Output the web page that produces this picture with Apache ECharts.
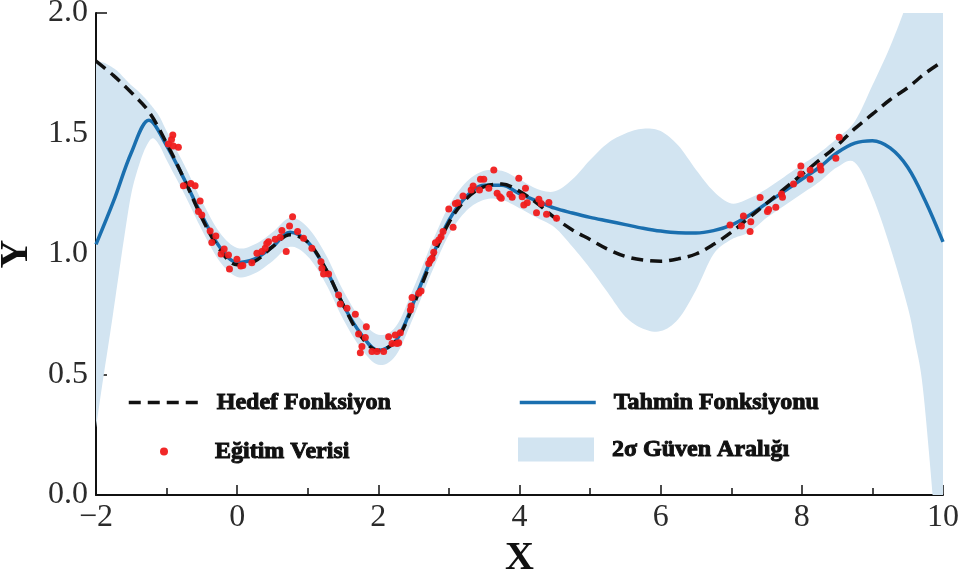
<!DOCTYPE html>
<html><head><meta charset="utf-8">
<script src="https://cdn.jsdelivr.net/npm/echarts@6/dist/echarts.min.js"></script>
<style>html,body{margin:0;padding:0;background:#fff}#c{width:965px;height:572px}</style>
</head><body><div id="c"></div>
<script>
// x positions for the two curves
const lineX = [-2,-1.75,-1.5,-1.25,-1,-0.75,-0.5,-0.25,0,0.25,0.5,0.75,1,1.25,1.5,1.75,2,2.25,2.5,2.75,3,3.25,3.5,3.75,4,4.25,4.5,4.75,5,5.25,5.5,5.75,6,6.25,6.5,6.75,7,7.25,7.5,7.75,8,8.25,8.5,8.75,9,9.25,9.5,9.75,10];
// Tahmin Fonksiyonu (prediction mean)
const meanY = [1.04,1.22,1.42,1.555,1.45,1.31,1.16,1.03,0.965,0.98,1.03,1.09,1.05,0.94,0.79,0.67,0.60,0.64,0.80,0.98,1.14,1.24,1.285,1.285,1.25,1.22,1.19,1.17,1.152,1.137,1.122,1.107,1.095,1.088,1.087,1.097,1.12,1.16,1.21,1.26,1.31,1.36,1.42,1.46,1.47,1.44,1.36,1.22,1.05];
// Hedef Fonksiyon (target)
const targetY = [1.80,1.74,1.67,1.59,1.46,1.31,1.15,1.02,0.955,0.97,1.03,1.08,1.05,0.94,0.79,0.66,0.60,0.64,0.79,0.97,1.13,1.23,1.28,1.29,1.26,1.21,1.15,1.10,1.06,1.02,0.99,0.975,0.97,0.98,1.00,1.04,1.09,1.15,1.21,1.27,1.33,1.39,1.45,1.52,1.58,1.64,1.69,1.75,1.80];
// 2-sigma band
const bandX = [-2,-1.9,-1.8,-1.7,-1.6,-1.5,-1.4,-1.3,-1.2,-1.1,-1,-0.75,-0.5,-0.25,0,0.25,0.5,0.75,1,1.25,1.5,1.75,2,2.25,2.5,2.75,3,3.25,3.5,3.75,4,4.25,4.5,4.75,5,5.25,5.5,5.75,6,6.25,6.5,6.75,7,7.25,7.5,7.75,8,8.25,8.5,8.75,9,9.25,9.5,9.6,9.7,9.8,9.9,10];
const bandLower = [0.28,0.48,0.67,0.87,1.07,1.25,1.36,1.44,1.48,1.45,1.39,1.25,1.10,0.97,0.905,0.92,0.97,1.03,0.99,0.88,0.73,0.61,0.54,0.58,0.74,0.92,1.08,1.18,1.225,1.225,1.19,1.15,1.11,1.03,0.94,0.84,0.74,0.69,0.68,0.73,0.85,1.00,1.06,1.09,1.15,1.20,1.25,1.30,1.36,1.38,1.24,1.03,0.78,0.64,0.48,0.18,-0.18,-0.6];
const bandUpper = [1.80,1.795,1.78,1.76,1.73,1.70,1.675,1.645,1.61,1.57,1.51,1.37,1.22,1.09,1.025,1.04,1.09,1.15,1.11,1.00,0.85,0.73,0.665,0.70,0.86,1.04,1.20,1.30,1.345,1.345,1.31,1.27,1.26,1.31,1.39,1.46,1.50,1.52,1.51,1.45,1.35,1.26,1.21,1.23,1.27,1.32,1.37,1.42,1.48,1.55,1.70,1.86,2.05,2.15,2.25,2.40,2.55,2.70];
// Eğitim Verisi (training data)
const dataX = [-0.975,-0.93,-0.912,-0.904,-0.833,-0.762,-0.657,-0.596,-0.525,-0.549,-0.501,-0.383,-0.302,-0.359,-0.184,-0.227,-0.123,-0.004,-0.109,0.052,0.08,0.208,0.28,0.35,0.397,0.444,0.42,0.539,0.634,0.61,0.742,0.785,0.856,0.695,0.941,1.059,1.187,1.201,1.224,1.295,1.437,1.461,1.556,1.674,1.83,1.72,1.816,1.768,1.745,1.91,1.98,2.075,2.146,2.24,2.265,2.194,2.312,2.288,2.454,2.464,2.478,2.572,2.605,2.714,2.738,2.761,2.785,2.809,2.856,2.889,2.917,3.059,2.998,3.092,3.125,3.2,3.315,3.343,3.433,3.565,3.447,3.494,3.636,3.683,3.72,3.741,3.863,3.896,3.99,4.085,4.038,4.061,4.11,4.274,4.307,4.416,4.241,4.383,4.525,6.983,7.172,7.144,7.277,7.267,7.409,7.513,7.53,7.631,7.712,7.726,7.882,7.986,7.986,8.118,8.118,8.26,8.27,8.482,8.53];
const dataY = [1.456,1.475,1.494,1.448,1.443,1.283,1.293,1.283,1.22,1.176,1.162,1.095,1.075,1.048,1.021,1.0,0.996,0.978,0.938,0.95,0.952,0.964,1.003,1.01,1.024,1.051,1.044,1.061,1.097,1.069,1.116,1.155,1.093,1.01,1.065,1.024,0.968,0.941,0.917,0.917,0.83,0.793,0.775,0.75,0.698,0.668,0.654,0.616,0.59,0.595,0.595,0.595,0.657,0.664,0.629,0.629,0.673,0.632,0.768,0.784,0.82,0.837,0.846,0.961,0.975,0.982,1.007,1.047,1.058,1.072,1.093,1.111,1.187,1.21,1.213,1.241,1.266,1.282,1.266,1.273,1.31,1.31,1.349,1.252,1.238,1.231,1.248,1.235,1.314,1.273,1.238,1.203,1.213,1.227,1.21,1.214,1.171,1.165,1.148,1.12,1.158,1.116,1.134,1.093,1.234,1.176,1.185,1.194,1.249,1.235,1.29,1.365,1.332,1.349,1.31,1.365,1.349,1.397,1.484];
const names = ['Hedef Fonksiyon','Eğitim Verisi','Tahmin Fonksiyonu','2σ Güven Aralığı'];

const zip = (xs, ys) => xs.map((x, i) => [x, ys[i]]);
const BLUE = '#1a6faf', BAND = '#d2e4f1', RED = '#f01c1c';
const serif = 'Liberation Serif';
const legText = {fontFamily: serif, fontWeight: 'bold', fontSize: 24, color: '#111', textBorderColor: '#111', textBorderWidth: 1};

// Catmull-Rom densification of pixel points (smooth band edges)
function smoothPts(pts, steps) {
  const out = [];
  for (let i = 0; i < pts.length - 1; i++) {
    const p0 = pts[Math.max(i - 1, 0)], p1 = pts[i], p2 = pts[i + 1], p3 = pts[Math.min(i + 2, pts.length - 1)];
    for (let s = 0; s < steps; s++) {
      const t = s / steps, t2 = t * t, t3 = t2 * t;
      const f = (a, b, c, d) => 0.5 * ((2 * b) + (-a + c) * t + (2 * a - 5 * b + 4 * c - d) * t2 + (-a + 3 * b - 3 * c + d) * t3);
      out.push([f(p0[0], p1[0], p2[0], p3[0]), f(p0[1], p1[1], p2[1], p3[1])]);
    }
  }
  out.push(pts[pts.length - 1]);
  return out;
}

const bandData = bandX.map((x, i) => [x, bandLower[i], bandUpper[i]]);

const chart = echarts.init(document.getElementById('c'), null, {renderer: 'canvas'});
chart.setOption({
  animation: false,
  backgroundColor: '#fff',
  grid: {left: 96, right: 22, top: 13, bottom: 77, containLabel: false, outerBoundsMode: 'none'},
  xAxis: {
    type: 'value', min: -2, max: 10, interval: 2,
    name: 'X', nameLocation: 'middle', nameGap: 33,
    nameTextStyle: {fontFamily: serif, fontWeight: 'bold', fontSize: 40, color: '#111'},
    axisLine: {onZero: false, lineStyle: {color: '#111', width: 2}},
    axisTick: {inside: true, length: 10, lineStyle: {color: '#111', width: 1.5}},
    minorTick: {show: true, splitNumber: 2, length: 7, lineStyle: {color: '#111', width: 1.5}},
    splitLine: {show: false},
    axisLabel: {fontFamily: serif, fontSize: 32, color: '#2b2b2b', margin: 7,
      formatter: v => v < 0 ? '\u2212' + Math.abs(v) : String(v)}
  },
  yAxis: {
    type: 'value', min: 0, max: 2, interval: 0.5,
    name: 'Y', nameLocation: 'middle', nameGap: 52, nameRotate: 90,
    nameTextStyle: {fontFamily: serif, fontWeight: 'bold', fontSize: 40, color: '#111'},
    axisLine: {show: true, onZero: false, lineStyle: {color: '#111', width: 2}},
    axisTick: {show: true, inside: true, length: 11, lineStyle: {color: '#111', width: 1.5}},
    splitLine: {show: false},
    axisLabel: {fontFamily: serif, fontSize: 32, color: '#2b2b2b', margin: 8,
      formatter: v => v.toFixed(1)}
  },
  legend: [
    {data: [{name: names[0], itemStyle: {opacity: 0}}], left: 127, top: 390, padding: 0, itemWidth: 73, itemHeight: 14,
     lineStyle: {width: 3.5}, selectedMode: false, textStyle: Object.assign({padding: [0, 0, 0, 10]}, legText)},
    {data: [{name: names[1], icon: 'circle'}], left: 160, top: 439, padding: 0, itemWidth: 8, itemHeight: 8,
     selectedMode: false, textStyle: Object.assign({padding: [0, 0, 0, 42]}, legText)},
    {data: [{name: names[2], itemStyle: {opacity: 0}}], left: 518, top: 390, padding: 0, itemWidth: 76, itemHeight: 14,
     lineStyle: {width: 3.5}, selectedMode: false, textStyle: Object.assign({padding: [0, 0, 0, 13]}, legText)},
    {data: [{name: names[3], icon: 'rect', itemStyle: {color: BAND, borderWidth: 0}}], left: 518, top: 437, padding: 0, itemWidth: 76, itemHeight: 24,
     selectedMode: false, textStyle: Object.assign({padding: [0, 0, 0, 13]}, legText)}
  ],
  series: [
    {type: 'custom', name: names[3], data: bandData, clip: true, silent: true, z: 1,
     itemStyle: {color: BAND},
     encode: {x: 0, y: [1, 2]},
     renderItem: function (params, api) {
       if (params.dataIndex !== 0) return null;
       const up = bandData.map(d => api.coord([d[0], d[2]]));
       const lo = bandData.map(d => api.coord([d[0], d[1]]));
       const pts = smoothPts(up, 8).concat(smoothPts(lo, 8).reverse());
       const cs = params.coordSys;
       return {type: 'polygon', shape: {points: pts}, style: {fill: BAND},
               clipPath: {type: 'rect', shape: {x: cs.x, y: cs.y, width: cs.width, height: cs.height}}};
     }},
    {type: 'line', name: names[2], data: zip(lineX, meanY), symbol: 'none', smooth: 0.35, color: BLUE,
     lineStyle: {color: BLUE, width: 3.5}, z: 3},
    {type: 'line', name: names[0], data: zip(lineX, targetY), symbol: 'none', smooth: 0.35, color: '#111',
     lineStyle: {color: '#111', width: 3.5, type: [12, 7]}, z: 4},
    {type: 'scatter', name: names[1], data: zip(dataX, dataY), symbol: 'circle', symbolSize: 7,
     itemStyle: {color: RED, opacity: 0.95}, z: 5}
  ]
});
</script></body></html>
